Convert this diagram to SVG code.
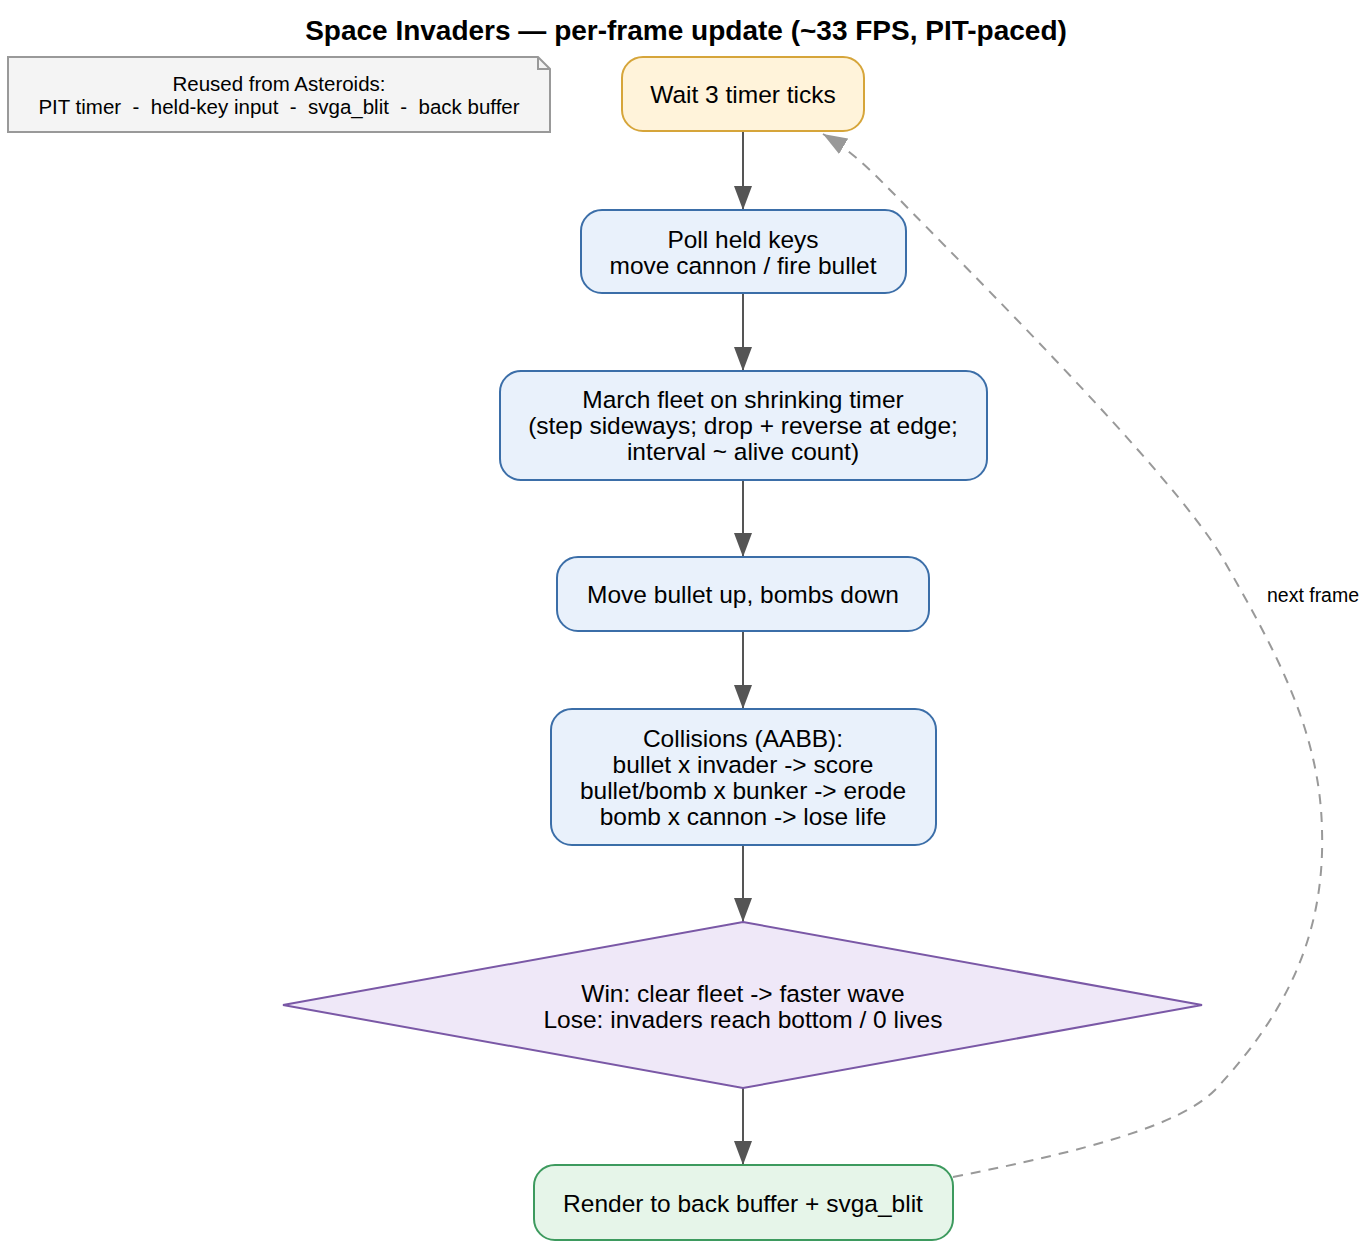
<svg xmlns="http://www.w3.org/2000/svg" width="1371" height="1249" viewBox="0 0 1371 1249">
<style>
text{font-family:"Liberation Sans",Arial,Helvetica,sans-serif;fill:#000;text-anchor:middle}
.title{font-size:28px;font-weight:bold}
.nt{font-size:24.5px}
.sm{font-size:20.5px}
.lbl{font-size:19.5px}
.blue{fill:#e9f1fb;stroke:#3b6ea8;stroke-width:2}
.edge{fill:none;stroke:#555;stroke-width:2}
.back{fill:none;stroke:#999;stroke-width:2;stroke-dasharray:10 8}
</style>
<defs>
<marker id="ah" markerUnits="userSpaceOnUse" markerWidth="24" markerHeight="18" viewBox="0 0 24 18" refX="24" refY="9" orient="auto"><path d="M0,0 L24,9 L0,18 z" fill="#555"/></marker>
<marker id="ahg" markerUnits="userSpaceOnUse" markerWidth="24" markerHeight="18" viewBox="0 0 24 18" refX="24" refY="9" orient="auto"><path d="M0,0 L24,9 L0,18 z" fill="#999"/></marker>
</defs>
<rect width="1371" height="1249" fill="#fff"/>
<text class="title" x="686" y="40">Space Invaders — per-frame update (~33 FPS, PIT-paced)</text>

<g id="note">
<path d="M8,57 L538,57 L550,69 L550,132 L8,132 z" fill="#f4f4f4" stroke="#999" stroke-width="2"/>
<path d="M538,57 L538,69 L550,69" fill="none" stroke="#999" stroke-width="2"/>
<text class="sm" x="279" y="91">Reused from Asteroids:</text>
<text class="sm" x="279" y="114" xml:space="preserve">PIT timer  -  held-key input  -  svga_blit  -  back buffer</text>
</g>

<g id="connectors">
<line class="edge" x1="743" y1="131" x2="743" y2="210" marker-end="url(#ah)"/>
<line class="edge" x1="743" y1="293" x2="743" y2="371" marker-end="url(#ah)"/>
<line class="edge" x1="743" y1="480" x2="743" y2="557" marker-end="url(#ah)"/>
<line class="edge" x1="743" y1="631" x2="743" y2="709" marker-end="url(#ah)"/>
<line class="edge" x1="743" y1="845" x2="743" y2="922" marker-end="url(#ah)"/>
<line class="edge" x1="743" y1="1088" x2="743" y2="1165" marker-end="url(#ah)"/>
<path class="back" d="M953,1177 C1090,1150 1180,1125 1215,1090 C1290,1010 1325,930 1322,830 C1320,730 1275,650 1222,557 C1170,470 960,262 900,200 C875,175 855,153 823,134" marker-end="url(#ahg)"/>
<text class="lbl" x="1313" y="602">next frame</text>
</g>

<g id="wait">
<rect x="622" y="57" width="242" height="74" rx="21" fill="#fff3da" stroke="#d6a53a" stroke-width="2"/>
<text class="nt" x="743" y="103">Wait 3 timer ticks</text>
</g>

<g id="poll">
<rect class="blue" x="581" y="210" width="325" height="83" rx="21"/>
<text class="nt" x="743" y="248">Poll held keys</text>
<text class="nt" x="743" y="274">move cannon / fire bullet</text>
</g>

<g id="march">
<rect class="blue" x="500" y="371" width="487" height="109" rx="21"/>
<text class="nt" x="743" y="408">March fleet on shrinking timer</text>
<text class="nt" x="743" y="434">(step sideways; drop + reverse at edge;</text>
<text class="nt" x="743" y="460">interval ~ alive count)</text>
</g>

<g id="move">
<rect class="blue" x="557" y="557" width="372" height="74" rx="21"/>
<text class="nt" x="743" y="603">Move bullet up, bombs down</text>
</g>

<g id="collisions">
<rect class="blue" x="551" y="709" width="385" height="136" rx="21"/>
<text class="nt" x="743" y="747">Collisions (AABB):</text>
<text class="nt" x="743" y="773">bullet x invader -&gt; score</text>
<text class="nt" x="743" y="799">bullet/bomb x bunker -&gt; erode</text>
<text class="nt" x="743" y="825">bomb x cannon -&gt; lose life</text>
</g>

<g id="decision">
<polygon points="743,922 1202,1005 743,1088 283,1005" fill="#efe8f8" stroke="#7a58a6" stroke-width="2"/>
<text class="nt" x="743" y="1002">Win: clear fleet -&gt; faster wave</text>
<text class="nt" x="743" y="1028">Lose: invaders reach bottom / 0 lives</text>
</g>

<g id="render">
<rect x="534" y="1165" width="419" height="75" rx="21" fill="#e6f5e9" stroke="#3d9a5e" stroke-width="2"/>
<text class="nt" x="743" y="1212">Render to back buffer + svga_blit</text>
</g>
</svg>
